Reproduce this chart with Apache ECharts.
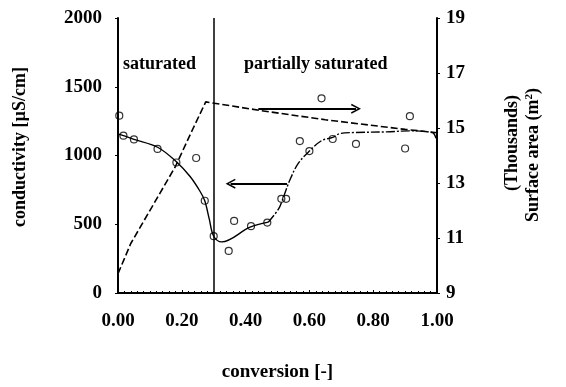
<!DOCTYPE html>
<html>
<head>
<meta charset="utf-8">
<script src="https://cdn.jsdelivr.net/npm/echarts@6/dist/echarts.min.js"></script>
<style>
html,body{margin:0;padding:0;background:#fff;}
#chart{width:566px;height:387px;}
</style>
</head>
<body>
<div id="chart"></div>
<script>
// measured conductivity points (circles)
var conversionPts = [0.004, 0.017, 0.05, 0.124, 0.183, 0.245, 0.272, 0.30, 0.347, 0.364, 0.417, 0.468, 0.512, 0.527, 0.57, 0.60, 0.638, 0.673, 0.746, 0.90, 0.915];
var conductivityPts = [1290, 1144, 1117, 1048, 949, 982, 671, 413, 306, 524, 486, 512, 685, 685, 1105, 1032, 1416, 1120, 1084, 1051, 1286];

// fitted conductivity curve (solid part)
var fitSolidX = [0, 0.017, 0.05, 0.124, 0.183, 0.226, 0.257, 0.272, 0.286, 0.30, 0.325, 0.414, 0.471];
var fitSolidY = [1155, 1144, 1117, 1060, 955, 847, 740, 671, 539, 413, 372, 479, 515];
// fitted conductivity curve (dash-dot part)
var fitDashX = [0.471, 0.503, 0.518, 0.539, 0.565, 0.60, 0.638, 0.673, 0.696, 0.74, 0.842, 0.915, 0.985, 0.997];
var fitDashY = [515, 610, 693, 823, 942, 1032, 1108, 1132, 1160, 1167, 1172, 1179, 1167, 1125];

// surface area curve (thousands m2, right axis)
var surfaceX = [0, 0.04, 0.18, 0.236, 0.275, 0.45, 0.65, 0.9, 1.0];
var surfaceY = [9.7, 10.8, 13.6, 15.0, 15.95, 15.63, 15.3, 14.95, 14.83];

// annotations
var boundaryX = 0.30;
var arrowRight = [[0.44, 1340], [0.746, 1340]];
var arrowLeft = [[0.53, 795], [0.353, 795]];

var xTicks = ['0.00', '0.20', '0.40', '0.60', '0.80', '1.00'];
var leftTicks = [0, 500, 1000, 1500, 2000];
var rightTicks = [9, 11, 13, 15, 17, 19];

function zip(a, b) { return a.map(function (v, i) { return [v, b[i]]; }); }

var FONT = '"Liberation Serif", "Times New Roman", serif';
var chevron = 'path://M5,0 L10,9 L8.6,9.6 L5,3 L1.4,9.6 L0,9 Z';

var chart = echarts.init(document.getElementById('chart'), null, {renderer: 'canvas'});
chart.setOption({
  animation: false,
  backgroundColor: '#fff',
  grid: {left: 118, right: 129, top: 18, bottom: 88, containLabel: false},
  xAxis: {
    type: 'value', min: 0, max: 1, interval: 0.2,
    axisLine: {show: true, onZero: false, lineStyle: {color: '#000', width: 2}},
    axisTick: {show: true, inside: true, length: 3, lineStyle: {color: '#000'}},
    minorTick: {show: true, splitNumber: 10, length: 2, lineStyle: {color: '#000'}},
    splitLine: {show: false},
    axisLabel: {
      color: '#000', fontFamily: FONT, fontSize: 19, fontWeight: 'bold', margin: 19,
      formatter: function (v) { return xTicks[Math.round(v / 0.2)]; }
    },
    name: 'conversion [-]', nameLocation: 'middle', nameGap: 70,
    nameTextStyle: {color: '#000', fontFamily: FONT, fontSize: 19, fontWeight: 'bold'}
  },
  yAxis: [{
    type: 'value', min: 0, max: 2000, interval: 500, position: 'left',
    axisLine: {show: true, lineStyle: {color: '#000', width: 2}},
    axisTick: {show: true, length: 3, lineStyle: {color: '#000'}},
    splitLine: {show: false},
    axisLabel: {color: '#000', fontFamily: FONT, fontSize: 19, fontWeight: 'bold', margin: 16,
      formatter: function (v) { return String(leftTicks[Math.round(v / 500)]); }}
  }, {
    type: 'value', min: 9, max: 19, interval: 2, position: 'right',
    axisLine: {show: true, lineStyle: {color: '#000', width: 2}},
    axisTick: {show: true, length: 3, lineStyle: {color: '#000'}},
    splitLine: {show: false},
    axisLabel: {color: '#000', fontFamily: FONT, fontSize: 19, fontWeight: 'bold', margin: 9,
      formatter: function (v) { return String(rightTicks[Math.round((v - 9) / 2)]); }}
  }],
  series: [{
    type: 'line', yAxisIndex: 1, data: zip(surfaceX, surfaceY),
    showSymbol: false, symbol: 'none', smooth: false,
    lineStyle: {color: '#000', width: 1.6, type: [7, 3]},
    z: 2
  }, {
    type: 'line', data: zip(fitSolidX, fitSolidY),
    symbol: 'none', smooth: 0.35,
    lineStyle: {color: '#000', width: 1.4},
    markLine: {
      silent: true, symbol: ['none', 'none'], label: {show: false},
      lineStyle: {color: '#000', width: 1.5, type: 'solid'},
      data: [[{coord: [boundaryX, 0]}, {coord: [boundaryX, 2000]}]]
    },
    markPoint: {
      silent: true, symbol: 'rect', symbolSize: 0,
      label: {show: true, color: '#000', fontFamily: FONT, fontSize: 18, fontWeight: 'bold'},
      data: [
        {coord: [0.13, 1665], value: 'saturated', label: {formatter: 'saturated'}},
        {coord: [0.62, 1665], value: 'partially saturated', label: {formatter: 'partially saturated'}}
      ]
    },
    z: 3
  }, {
    type: 'line', data: zip(fitDashX, fitDashY),
    symbol: 'none', smooth: 0.35,
    lineStyle: {color: '#000', width: 1.4, type: [9, 2, 2, 2]},
    markLine: {
      silent: true, label: {show: false}, symbol: ['none', chevron], symbolSize: [10, 10],
      lineStyle: {color: '#000', width: 2, type: 'solid'},
      data: [
        [{coord: arrowRight[0]}, {coord: arrowRight[1]}],
        [{coord: arrowLeft[0]}, {coord: arrowLeft[1]}]
      ]
    },
    z: 3
  }, {
    type: 'scatter', data: zip(conversionPts, conductivityPts),
    symbol: 'circle', symbolSize: 7,
    itemStyle: {color: 'rgba(255,255,255,0)', borderColor: '#000', borderWidth: 1.2},
    z: 4
  }],
  graphic: [
    {type: 'text', x: 20, y: 147, rotation: Math.PI / 2,
     style: {text: 'conductivity [µS/cm]', font: 'bold 18px ' + FONT, fill: '#000', textAlign: 'center', textVerticalAlign: 'middle'}},
    {type: 'text', x: 512, y: 143, rotation: Math.PI / 2,
     style: {text: '(Thousands)', font: 'bold 18px ' + FONT, fill: '#000', textAlign: 'center', textVerticalAlign: 'middle'}},
    {type: 'text', x: 533, y: 155, rotation: Math.PI / 2,
     style: {
       text: 'Surface area (m{s|2})',
       rich: {s: {fontSize: 11, fontFamily: FONT, fontWeight: 'bold', verticalAlign: 'top', padding: [0, 0, 8, 0]}},
       font: 'bold 18px ' + FONT, fill: '#000', textAlign: 'center', textVerticalAlign: 'middle'
     }}
  ]
});
</script>
</body>
</html>
